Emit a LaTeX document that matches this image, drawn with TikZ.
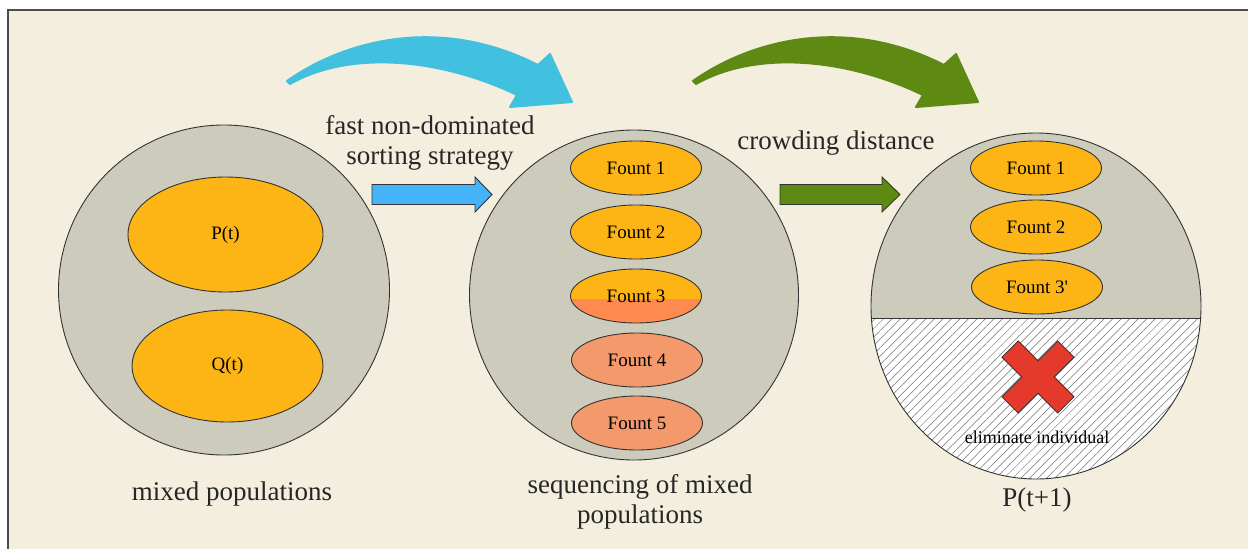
\documentclass[tikz,border=0pt]{standalone}
\usepackage{fontspec}
\setmainfont{Liberation Serif}
\usetikzlibrary{shapes.geometric,patterns.meta}
\definecolor{cream}{HTML}{F3EEDD}
\definecolor{popgray}{HTML}{CDCBBC}
\definecolor{orng}{HTML}{FDB515}
\definecolor{salmon}{HTML}{F3996B}
\definecolor{fbot}{HTML}{FF8A50}
\definecolor{cblue}{HTML}{41C1DF}
\definecolor{sblue}{HTML}{45B3F7}
\definecolor{grn}{HTML}{5E8912}
\definecolor{xred}{HTML}{E5392C}
\definecolor{outl}{HTML}{333333}
\tikzset{
  popcirc/.style={ellipse,draw=outl,line width=0.9pt,fill=popgray,inner sep=0pt},
  fount/.style={ellipse,draw=outl,line width=0.9pt,fill=orng,inner sep=0pt,
    minimum width=131pt,minimum height=54pt,font=\fontsize{19}{22}\selectfont},
  bigtxt/.style={font=\fontsize{27}{30}\selectfont,text=black!85,align=center,inner sep=0pt},
  blockarrow/.style={draw=outl,line width=0.9pt,line join=miter},
}
\begin{document}
\begin{tikzpicture}[x=1pt,y=-1pt]
\useasboundingbox (0,0) rectangle (1248,549);
\fill[white] (0,0) rectangle (1248,549);
\fill[cream] (8,10) rectangle (1248,549);
\draw[line width=1.4pt,black!70] (8,549) -- (8,10) -- (1248,10);

% curved arrows
\fill[cblue,draw=cblue,line width=2pt,line join=round]
  (287,81) .. controls (345,40) and (440,15) .. (538,65)
  -- (550,54) -- (572,102) -- (510,107) -- (517,95)
  .. controls (440,58) and (350,50) .. (290,84) -- cycle;
\begin{scope}[xshift=406pt]
\fill[grn,draw=grn,line width=2pt,line join=round]
  (287,81) .. controls (345,40) and (440,15) .. (538,65)
  -- (550,54) -- (572,102) -- (510,107) -- (517,95)
  .. controls (440,58) and (350,50) .. (290,84) -- cycle;
\end{scope}

% left population
\node[popcirc,minimum width=331pt,minimum height=330pt] (c1) at (224,290) {};
\node[fount,minimum width=195pt,minimum height=115pt] (pt) at (225.5,234.5) {P(t)};
\node[fount,minimum width=191pt,minimum height=112pt] (qt) at (227.5,366) {Q(t)};
\node[bigtxt] (l1) at (232,494) {mixed populations};

% middle population
\node[popcirc,minimum width=329pt,minimum height=330pt] (c2) at (634,295) {};
\node[fount] (m1) at (636,168) {Fount 1};
\node[fount] (m2) at (636,232) {Fount 2};
\node[fount,path picture={\fill[fbot] ([yshift=-3pt]path picture bounding box.west) rectangle (path picture bounding box.south east);}] (m3) at (636,296) {};
\node[font=\fontsize{19}{22}\selectfont] (m3t) at (m3) {Fount 3};
\node[fount,fill=salmon] (m4) at (637,360) {Fount 4};
\node[fount,fill=salmon] (m5) at (637,423) {Fount 5};
\node[bigtxt] (l2) at (640,502) {sequencing of mixed\\populations};

% right population
\node[popcirc,draw=none,minimum width=330pt,minimum height=346pt] (c3) at (1036,306) {};
\begin{scope}
\clip (1036,306) ellipse [x radius=165pt, y radius=173pt];
\fill[white] (860,318) rectangle (1210,490);
\fill[pattern={Lines[angle=45,distance=6pt,line width=0.5pt]},pattern color=black!55] (860,318) rectangle (1210,490);
\draw[outl,line width=0.9pt] (860,318) -- (1210,318);
\end{scope}
\draw[outl,line width=0.9pt] (c3.center) ellipse [x radius=165pt, y radius=173pt];
\node[fount] (r1) at (1036,168) {Fount 1};
\node[fount] (r2) at (1036,227) {Fount 2};
\node[fount] (r3) at (1037,287) {Fount 3\textquotesingle};
\begin{scope}[shift={(1038,377)},rotate=45]
\fill[xred,draw=outl,line width=0.8pt]
  (-11.5,39.5) -- (11.5,39.5) -- (11.5,11.5) -- (39.5,11.5) -- (39.5,-11.5) -- (11.5,-11.5)
  -- (11.5,-39.5) -- (-11.5,-39.5) -- (-11.5,-11.5) -- (-39.5,-11.5) -- (-39.5,11.5) -- (-11.5,11.5) -- cycle;
\end{scope}
\node[font=\fontsize{18}{20}\selectfont,inner sep=0pt] (elim) at (1037,437) {eliminate individual};
\node[bigtxt] (l3) at (1037,500) {P(t+1)};

% labels and block arrows
\node[bigtxt] (t1) at (430,143) {fast non-dominated\\sorting strategy};
\node[bigtxt] (t2) at (836,143) {crowding distance};
\fill[sblue,blockarrow] (372,184.5) -- (475,184.5) -- (475,177) -- (492,194.5) -- (475,212) -- (475,204.5) -- (372,204.5) -- cycle;
\fill[grn,blockarrow] (780,184.5) -- (882,184.5) -- (882,177) -- (900,194.5) -- (882,212) -- (882,204.5) -- (780,204.5) -- cycle;
\end{tikzpicture}
\end{document}
